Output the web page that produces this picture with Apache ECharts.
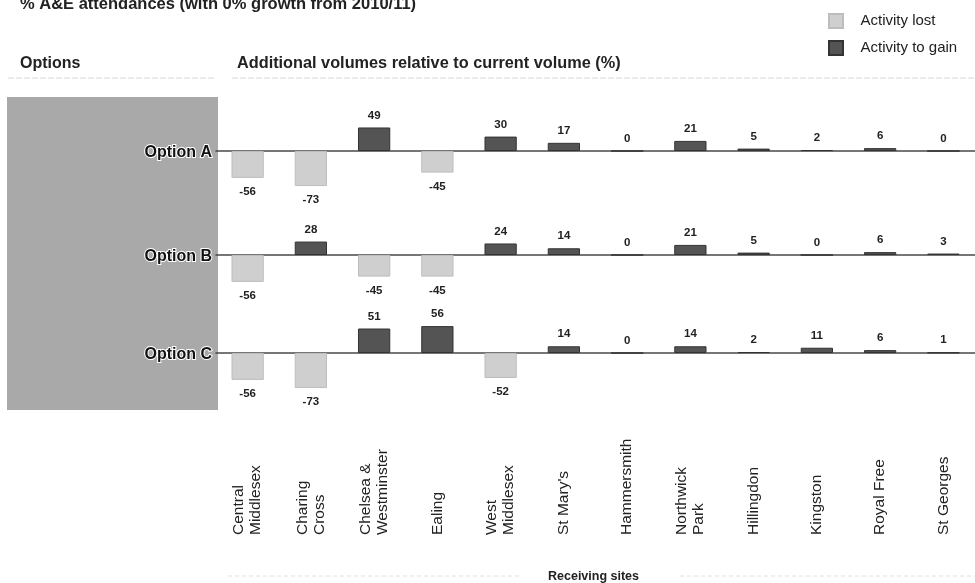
<!DOCTYPE html>
<html>
<head>
<meta charset="utf-8">
<script src="https://cdn.jsdelivr.net/npm/echarts@6/dist/echarts.min.js"></script>
<style>
html,body{margin:0;padding:0;background:#fff;}
#chart{width:975px;height:583px;}
</style>
</head>
<body>
<div id="chart"></div>
<script>
const sites = ['Central\nMiddlesex', 'Charing\nCross', 'Chelsea &\nWestminster', 'Ealing', 'West\nMiddlesex', "St Mary's", 'Hammersmith', 'Northwick\nPark', 'Hillingdon', 'Kingston', 'Royal Free', 'St Georges'];
const optionNames = ['Option A', 'Option B', 'Option C'];
const optionA = [-56, -73, 49, -45, 30, 17, 0, 21, 5, 2, 6, 0];
const optionB = [-56, 28, -45, -45, 24, 14, 0, 21, 5, 0, 6, 3];
const optionC = [-56, -73, 51, 56, -52, 14, 0, 14, 2, 11, 6, 1];
const optionValues = [optionA, optionB, optionC];

const FONT = '"Liberation Sans", Arial, sans-serif';
const rowTops = [103, 207, 305];
const GRID_LEFT = 216, GRID_W = 768, ROW_H = 96;

const grids = [], xAxes = [], yAxes = [], series = [];
optionValues.forEach((vals, i) => {
  grids.push({left: GRID_LEFT, width: GRID_W, top: rowTops[i], height: ROW_H});
  xAxes.push({
    type: 'category', gridIndex: i, data: sites,
    axisLine: {show: true, onZero: true, lineStyle: {color: '#4a4a4a', width: 1.5}},
    axisTick: {show: false}, axisLabel: {show: false}, splitLine: {show: false}
  });
  yAxes.push({type: 'value', gridIndex: i, min: -100, max: 100, show: false, splitLine: {show: false}});
  const lost = vals.map(v => v < 0 ? v : '-');
  const gain = vals.map(v => v >= 0 ? v : '-');
  series.push({
    name: 'Activity lost', type: 'bar', xAxisIndex: i, yAxisIndex: i, data: lost,
    stack: 'r' + i, barWidth: '51%',
    itemStyle: {color: '#cfcfcf', borderColor: '#bdbdbd', borderWidth: 1},
    label: {show: true, position: 'bottom', distance: 8, color: '#222', fontSize: 11.5, fontWeight: 'bold', fontFamily: FONT}
  });
  series.push({
    name: 'Activity to gain', type: 'bar', xAxisIndex: i, yAxisIndex: i, data: gain,
    stack: 'r' + i, barWidth: '51%',
    itemStyle: {color: '#545454', borderColor: '#333', borderWidth: 1},
    label: {show: true, position: 'top', distance: 6, color: '#222', fontSize: 11.5, fontWeight: 'bold', fontFamily: FONT}
  });
});

// label axis (sites) drawn at the top edge of a thin grid, so rotated text starts at the bottom
grids.push({left: GRID_LEFT, width: GRID_W, top: 537, height: 1});
xAxes.push({
  type: 'category', gridIndex: 3, data: sites, position: 'top',
  axisLine: {show: false}, axisTick: {show: false},
  axisLabel: {interval: 0, rotate: 90, margin: 2, color: '#222', fontSize: 15.5, lineHeight: 17, fontFamily: FONT}
});
yAxes.push({type: 'value', gridIndex: 3, show: false});

const graphics = [
  {type: 'rect', left: 7, top: 97, shape: {width: 211, height: 313}, style: {fill: '#a9a9a9'}, z: -1},
  {type: 'text', left: 20, top: -4, style: {text: '% A&E attendances (with 0% growth from 2010/11)', font: 'bold 16.5px ' + FONT, fill: '#222'}},
  {type: 'text', left: 20, top: 56, style: {text: 'Options', font: 'bold 16px ' + FONT, fill: '#222'}},
  {type: 'text', left: 237, top: 56, style: {text: 'Additional volumes relative to current volume (%)', font: 'bold 16.3px ' + FONT, fill: '#222'}},
  {type: 'line', shape: {x1: 8, y1: 78, x2: 214, y2: 78}, style: {stroke: '#d8d8d8', lineWidth: 1, lineDash: [6, 2]}},
  {type: 'line', shape: {x1: 232, y1: 78, x2: 975, y2: 78}, style: {stroke: '#d8d8d8', lineWidth: 1, lineDash: [6, 2]}},
  {type: 'line', shape: {x1: 228, y1: 576, x2: 520, y2: 576}, style: {stroke: '#e0e0e0', lineWidth: 1, lineDash: [4, 3]}},
  {type: 'line', shape: {x1: 680, y1: 576, x2: 975, y2: 576}, style: {stroke: '#e0e0e0', lineWidth: 1, lineDash: [4, 3]}},
  {type: 'text', left: 548, top: 570, style: {text: 'Receiving sites', font: 'bold 12.5px ' + FONT, fill: '#222'}}
];
optionNames.forEach((n, i) => {
  graphics.push({
    type: 'text', right: 975 - 213, top: rowTops[i] + ROW_H / 2 - 7,
    style: {text: n, font: 'bold 16px ' + FONT, fill: '#111', stroke: '#fff', lineWidth: 2}
  });
});

const chart = echarts.init(document.getElementById('chart'));
chart.setOption({
  animation: false,
  backgroundColor: '#fff',
  legend: {
    orient: 'vertical', left: 823, top: 8, itemWidth: 14, itemHeight: 14, itemGap: 11,
    data: ['Activity lost', 'Activity to gain'],
    formatter: '   {name}',
    textStyle: {fontSize: 15, fontFamily: FONT, color: '#222'},
    icon: 'rect'
  },
  grid: grids, xAxis: xAxes, yAxis: yAxes, series: series, graphic: graphics
});
</script>
</body>
</html>
